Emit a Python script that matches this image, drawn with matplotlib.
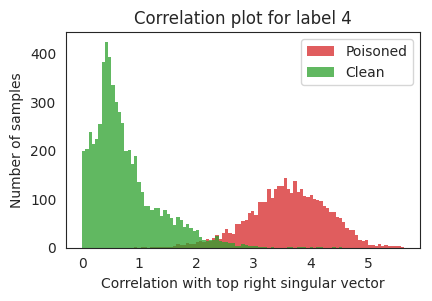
import numpy as np
import matplotlib
matplotlib.use("Agg")
import matplotlib.pyplot as plt
import seaborn as sns

sns.set_style("white")
plt.rcParams['font.family'] = ['DejaVu Sans']

# histogram bins shared by both groups (99 bins from 0 to 5.63)
bin_lo = 0.0
bin_hi = 5.63
n_bins = 99

# counts per bin
poisoned_counts = [
    0, 0, 0, 0, 0, 0, 0, 0, 0, 0,
    0, 0, 0, 0, 0, 0, 1, 0, 1, 1,
    0, 1, 2, 1, 1, 2, 1, 1, 3, 7,
    5, 6, 9, 7, 7, 12, 14, 12, 17, 14,
    20, 26, 17, 30, 38, 30, 28, 48, 48, 55,
    57, 71, 75, 67, 94, 94, 95, 121, 102, 121,
    127, 127, 143, 122, 112, 137, 114, 121, 106, 104,
    108, 100, 99, 96, 86, 81, 73, 73, 63, 61,
    52, 40, 36, 36, 26, 15, 13, 15, 5, 5,
    3, 7, 3, 5, 3, 3, 3, 3, 1,
]
clean_counts = [
    200, 203, 238, 213, 225, 254, 382, 423, 394, 336,
    300, 279, 258, 200, 202, 172, 188, 135, 114, 85,
    87, 77, 81, 81, 65, 77, 70, 61, 46, 63,
    57, 42, 48, 40, 34, 36, 22, 15, 14, 15,
    15, 24, 13, 11, 11, 9, 9, 3, 3, 7,
    5, 3, 3, 3, 1, 2, 1, 0, 1, 0,
    0, 0, 0, 2, 1, 0, 2, 1, 1, 0,
    1, 0, 2, 1, 0, 0, 0, 1, 0, 2,
    0, 0, 0, 0, 0, 0, 0, 0, 0, 0,
    0, 0, 0, 0, 0, 0, 0, 0, 0,
]

edges = np.linspace(bin_lo, bin_hi, n_bins + 1)
centers = (edges[:-1] + edges[1:]) / 2

fig, ax = plt.subplots(figsize=(4.32, 3.01), dpi=100)
fig.subplots_adjust(left=0.153, right=0.972, bottom=0.177, top=0.893)

ax.hist(centers, bins=edges, weights=poisoned_counts, color='tab:red', alpha=0.75,
        linewidth=0, edgecolor='none', label='Poisoned')
ax.hist(centers, bins=edges, weights=clean_counts, color='tab:green', alpha=0.75,
        linewidth=0, edgecolor='none', label='Clean')

ax.set_title('Correlation plot for label 4', fontsize=12)
ax.set_xlabel('Correlation with top right singular vector', fontsize=10)
ax.set_ylabel('Number of samples', fontsize=10)
ax.tick_params(labelsize=10)
ax.legend(loc='upper right', fontsize=10)

fig.savefig('out.png', dpi=100)
